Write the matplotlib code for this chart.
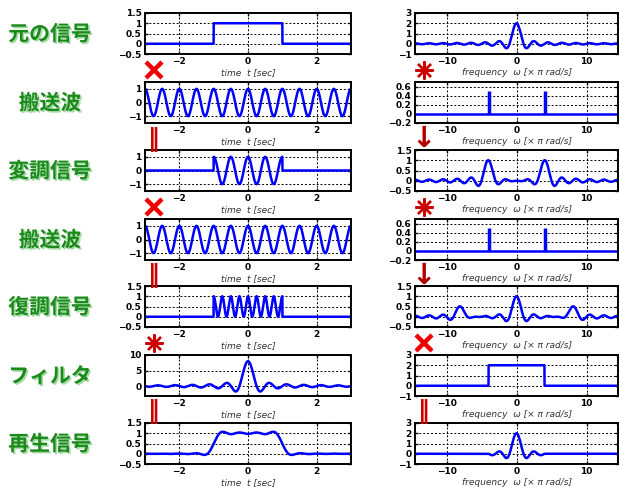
import numpy as np
import matplotlib
matplotlib.use("Agg")
from matplotlib import pyplot as plt
from matplotlib.lines import Line2D
import matplotlib.patheffects as pe

# signal parameters
pulse_edges = (-1.0, 1.0)      # original rect pulse [sec]
pulse_height = 1.0
carrier_hz = 2.0               # 12 cycles over -3..3 s  -> 4*pi rad/s
impulse_pos = [-4.0, 4.0]      # carrier spectrum lines [x pi rad/s]
impulse_height = [0.5, 0.5]
filter_cut = 4.0               # ideal low pass, |w| < 4 pi
filter_gain = 2.0

time_lim = (-3, 3)
freq_lim = (-14.5, 14.5)
time_ticks = [-2, 0, 2]
freq_ticks = [-10, 0, 10]

row_names = ["元の信号", "搬送波", "変調信号", "搬送波", "復調信号", "フィルタ", "再生信号"]
left_ylims = [(-0.5, 1.5), (-1.5, 1.5), (-1.5, 1.5), (-1.5, 1.5), (-0.5, 1.5), (-3.2, 10), (-0.5, 1.5)]
left_yticks = [[-0.5, 0, 0.5, 1, 1.5], [-1, 0, 1], [-1, 0, 1], [-1, 0, 1],
               [-0.5, 0, 0.5, 1, 1.5], [0, 5, 10], [-0.5, 0, 0.5, 1, 1.5]]
right_ylims = [(-1, 3), (-0.2, 0.7), (-0.5, 1.5), (-0.2, 0.7), (-0.5, 1.5), (-1, 3), (-1, 3)]
right_yticks = [[-1, 0, 1, 2, 3], [-0.2, 0, 0.2, 0.4, 0.6], [-0.5, 0, 0.5, 1, 1.5],
                [-0.2, 0, 0.2, 0.4, 0.6], [-0.5, 0, 0.5, 1, 1.5], [-1, 0, 1, 2, 3], [-1, 0, 1, 2, 3]]

left_ops = ["×", "‖", "×", "‖", "*", "‖"]
right_ops = ["*", "↓", "*", "↓", "×", "‖"]

# signals
t = np.linspace(-3, 3, 3001)
f = np.linspace(-15, 15, 3001)
w0 = 2 * carrier_hz            # carrier in units of pi rad/s

rect = np.where((t >= pulse_edges[0]) & (t <= pulse_edges[1]), pulse_height, 0.0)
carrier = np.cos(w0 * np.pi * t)
modulated = rect * carrier
demod = modulated * carrier
h = filter_gain * filter_cut * np.sinc(filter_cut * t)

width = pulse_edges[1] - pulse_edges[0]
X = pulse_height * width * np.sinc(width / 2 * f)
M = 0.5 * pulse_height * width * (np.sinc(width / 2 * (f - w0)) + np.sinc(width / 2 * (f + w0)))
D = 0.5 * X + 0.25 * pulse_height * width * (np.sinc(width / 2 * (f - 2 * w0)) + np.sinc(width / 2 * (f + 2 * w0)))
H = np.where(np.abs(f) < filter_cut, filter_gain, 0.0)
Y = H * D

# inverse transform of the filtered spectrum
band = np.abs(f) < filter_cut
y = np.array([0.5 * np.trapezoid(Y[band] * np.cos(np.pi * f[band] * tt), f[band]) for tt in t])

left_data = [rect, carrier, modulated, carrier, demod, h, y]
right_data = [X, None, M, None, D, H, Y]

W, Hpx = 619, 487
fig = plt.figure(figsize=(W / 100, Hpx / 100), dpi=100)
fig.patch.set_facecolor("white")

row_tops = [13, 82, 150, 219, 286, 355, 423]
ax_h = 41
blue = "#0000ff"
tick_font = dict(family="DejaVu Sans", size=6.5, weight="bold")


def style(ax, xlim, xticks, ylim, yticks, xlabel):
    ax.set_xlim(xlim)
    ax.set_ylim(ylim)
    ax.set_xticks(xticks)
    ax.set_yticks(yticks)
    ax.set_xticklabels([f"{v:g}".replace("-", "−") for v in xticks], fontdict=tick_font)
    ax.set_yticklabels([f"{v:g}".replace("-", "−") for v in yticks], fontdict=tick_font)
    ax.grid(True, color="black", linestyle=(0, (2, 2)), linewidth=0.7)
    ax.tick_params(direction="in", length=2.5, width=1, pad=2.5, top=True, right=True)
    for s in ax.spines.values():
        s.set_linewidth(1.4)
    ax.set_xlabel(xlabel, fontsize=6.5, style="italic", color="#333333", labelpad=1)


for i in range(7):
    top = row_tops[i]
    axl = fig.add_axes([145 / W, 1 - (top + ax_h) / Hpx, 206 / W, ax_h / Hpx])
    axl.plot(t, left_data[i], color=blue, lw=1.8)
    style(axl, time_lim, time_ticks, left_ylims[i], left_yticks[i], "time  t [sec]")

    axr = fig.add_axes([415 / W, 1 - (top + ax_h) / Hpx, 203 / W, ax_h / Hpx])
    if right_data[i] is None:
        axr.plot(freq_lim, [0, 0], color=blue, lw=1.8)
        axr.vlines(impulse_pos, 0, impulse_height, color=blue, lw=2.5)
    else:
        axr.plot(f, right_data[i], color=blue, lw=1.8)
    style(axr, freq_lim, freq_ticks, right_ylims[i], right_yticks[i],
          "frequency  ω [× π rad/s]")

    fig.text(50 / W, 1 - (top + 21) / Hpx, row_names[i], ha="center", va="center",
             fontsize=15, weight="bold", color="#1a8a1a",
             family=["Noto Sans CJK JP", "DejaVu Sans"],
             path_effects=[pe.SimplePatchShadow(offset=(1.2, -1.2), shadow_rgbFace="#8fd08f", alpha=0.8),
                           pe.Normal()])


def put_op(x, yc, sym):
    if sym == "*":
        fig.add_artist(Line2D([x / W], [yc], transform=fig.transFigure, marker=(8, 2, 0),
                              markersize=13, markeredgewidth=1.7, color="#cc0000"))
    elif sym == "×":
        fig.add_artist(Line2D([x / W], [yc], transform=fig.transFigure, marker="x",
                              markersize=12, markeredgewidth=3.2, color="#ee0000"))
    elif sym == "↓":
        fig.text(x / W, yc, "↓", ha="center", va="center", fontsize=21, weight="bold",
                 color="#b00000", family="DejaVu Sans")
    else:
        fig.text(x / W, yc, "‖", ha="center", va="center", fontsize=17, weight="bold",
                 color="#cc0000", family="DejaVu Sans")


# operator symbols between rows
for i in range(6):
    yc = 1 - (row_tops[i] + 57) / Hpx
    put_op(154, yc, left_ops[i])
    put_op(424, yc, right_ops[i])

fig.savefig("out.png", dpi=100)
